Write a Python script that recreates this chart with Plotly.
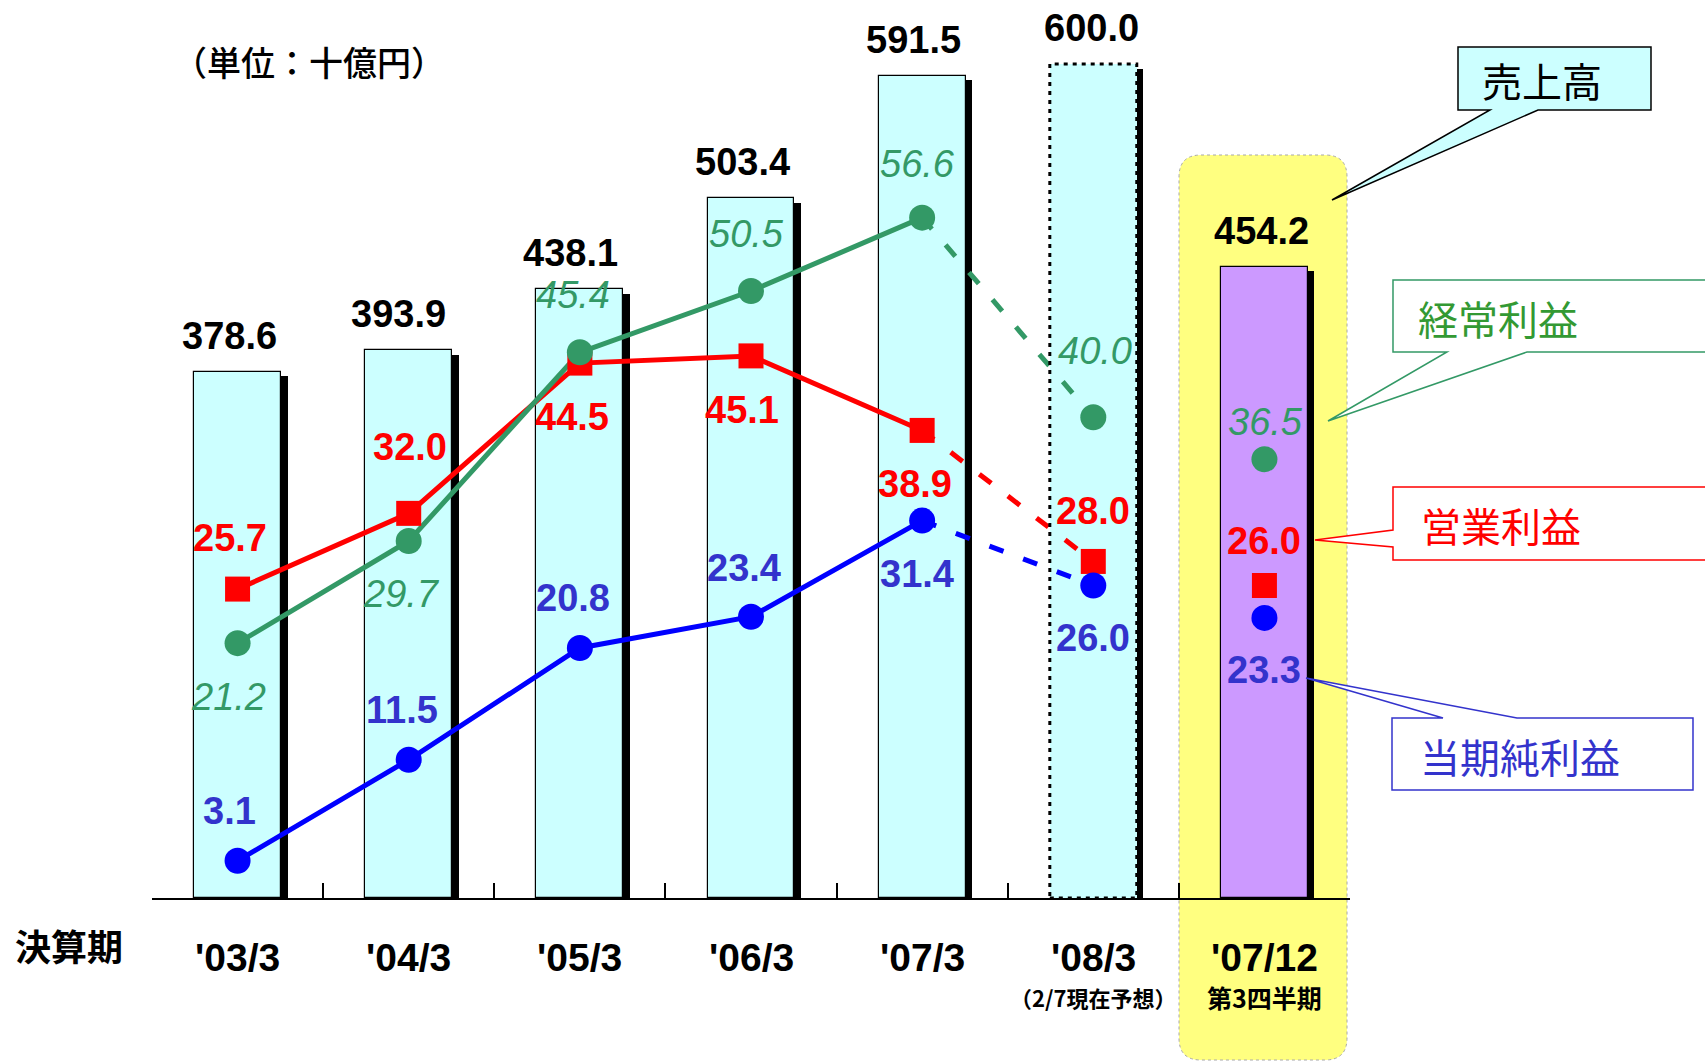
import plotly.graph_objects as go

# ---------------- data ----------------
categories = ["'03/3", "'04/3", "'05/3", "'06/3", "'07/3", "'08/3", "'07/12"]
sub_labels = ["", "", "", "", "", "（2/7現在予想）", "第3四半期"]
sales = [378.6, 393.9, 438.1, 503.4, 591.5, 600.0, 454.2]
ordinary_profit = [21.2, 29.7, 45.4, 50.5, 56.6, 40.0, 36.5]
operating_profit = [25.7, 32.0, 44.5, 45.1, 38.9, 28.0, 26.0]
net_profit = [3.1, 11.5, 20.8, 23.4, 31.4, 26.0, 23.3]

# ---------------- layout geometry ----------------
W, H = 1705, 1063
L, R, T, B = 152, 355, 20, 165
PW = W - L - R
PH = H - T - B
Y1_MAX = PH / 1.390
Y2_MAX = PH / 12.02
CAT_PX = PW / len(categories)

def xp(px):
    return (px - L) / PW

def yp(py):
    return (H - B - py) / PH

xs = list(range(len(categories)))
BW = 0.508
SH_DX = 6.5 / CAT_PX
SH_DY = 4.5 / 1.390

NUM_FONT = "Liberation Sans, Arial, sans-serif"
CJK_FONT = "Noto Sans CJK JP, sans-serif"

CYAN = "#CCFFFF"
PURPLE = "#CC99FF"
YELLOW = "#FFFF80"
GREEN = "#339966"
GREEN_TXT = "#339933"
RED = "#FF0000"
BLUE = "#0000FF"
BLUE_TXT = "#3333CC"

fig = go.Figure()

# bar shadows
fig.add_trace(go.Bar(
    x=xs, y=[v - SH_DY for v in sales], width=BW, offset=-BW / 2 + SH_DX,
    marker=dict(color="black", line=dict(width=0)), hoverinfo="skip",
))
# bars
bar_colors = [CYAN] * 6 + [PURPLE]
bar_lw = [1.2] * 5 + [0] + [1.2]
fig.add_trace(go.Bar(
    x=xs, y=sales, width=BW, offset=-BW / 2,
    marker=dict(color=bar_colors, line=dict(color="black", width=bar_lw)),
))

series = [
    (operating_profit, RED, "square", 25),
    (ordinary_profit, GREEN, "circle", 26),
    (net_profit, BLUE, "circle", 26),
]
for vals, col, sym, sz in series:
    fig.add_trace(go.Scatter(x=xs[:5], y=vals[:5], mode="lines", yaxis="y2",
                             line=dict(color=col, width=5)))
    fig.add_trace(go.Scatter(x=xs[4:6], y=vals[4:6], mode="lines", yaxis="y2",
                             line=dict(color=col, width=5, dash="15px,21px")))
for vals, col, sym, sz in series:
    fig.add_trace(go.Scatter(x=xs, y=vals, mode="markers", yaxis="y2",
                             marker=dict(symbol=sym, size=sz, color=col,
                                         line=dict(width=0))))

annotations = []

# bar value labels
bar_xshift = [-8, -10, -9, -9, -9, -2, -3]
for i, v in enumerate(sales):
    annotations.append(dict(x=xs[i], y=v, xref="x", yref="y", text=f"{v:.1f}",
                            showarrow=False, yshift=36, xshift=bar_xshift[i],
                            xanchor="center", yanchor="middle",
                            font=dict(family=NUM_FONT, size=38, color="black", weight="bold")))

# line value labels
red_shift = [(-8, 51), (1, 66), (-8, -54), (-9, -54), (-7, -54), (0, 50), (0, 44)]
green_shift = [(-9, -54), (-7, -53), (-7, 57), (-5, 57), (-5, 54), (2, 66), (1, 37)]
blue_shift = [(-8, 50), (-7, 50), (-7, 50), (-7, 49), (-5, -53), (0, -53), (0, -52)]
for vals, shifts, col, italic, bold in [
    (operating_profit, red_shift, RED, False, True),
    (ordinary_profit, green_shift, GREEN, True, False),
    (net_profit, blue_shift, BLUE_TXT, False, True),
]:
    for i, v in enumerate(vals):
        annotations.append(dict(
            x=xs[i], y=v, xref="x", yref="y2", text=f"{v:.1f}", showarrow=False,
            xshift=shifts[i][0], yshift=shifts[i][1], xanchor="center", yanchor="middle",
            font=dict(family=NUM_FONT, size=38, color=col,
                      style="italic" if italic else "normal",
                      weight="bold" if bold else "normal")))

# category labels
for i, c in enumerate(categories):
    annotations.append(dict(x=xs[i], y=yp(957), xref="x", yref="paper", text=c,
                            showarrow=False, xanchor="center", yanchor="middle",
                            font=dict(family=NUM_FONT, size=39, color="black", weight="bold")))
    if sub_labels[i]:
        annotations.append(dict(x=xs[i], y=yp(997), xref="x", yref="paper",
                                text=sub_labels[i], showarrow=False,
                                xanchor="center", yanchor="middle",
                                font=dict(family=CJK_FONT, size=22 if i == 5 else 25,
                                          color="black", weight="bold")))

annotations.append(dict(x=xp(69), y=yp(945), xref="paper", yref="paper", text="決算期",
                        showarrow=False, xanchor="center", yanchor="middle",
                        font=dict(family=CJK_FONT, size=36, color="black", weight="bold")))
annotations.append(dict(x=xp(309), y=yp(62), xref="paper", yref="paper", text="（単位：十億円）",
                        showarrow=False, xanchor="center", yanchor="middle",
                        font=dict(family=CJK_FONT, size=34, color="black", weight=500)))

# callout texts
callout_txt = [
    ("売上高", 1542, 80, "black"),
    ("経常利益", 1498, 318, GREEN_TXT),
    ("営業利益", 1501, 525, RED),
    ("当期純利益", 1520, 756, BLUE_TXT),
]
for t, cx, cy, col in callout_txt:
    annotations.append(dict(x=xp(cx), y=yp(cy), xref="paper", yref="paper", text=t,
                            showarrow=False, xanchor="center", yanchor="middle",
                            font=dict(family=CJK_FONT, size=40, color=col)))

def path_of(points):
    s = "M " + " L ".join(f"{xp(a):.5f},{yp(b):.5f}" for a, b in points) + " Z"
    return s

shapes = []
# yellow highlight box (rounded)
x0, x1, y0, y1, r = 1179, 1347, 155, 1060, 22
yb = (f"M {xp(x0 + r)},{yp(y0)} L {xp(x1 - r)},{yp(y0)} Q {xp(x1)},{yp(y0)} {xp(x1)},{yp(y0 + r)} "
      f"L {xp(x1)},{yp(y1 - r)} Q {xp(x1)},{yp(y1)} {xp(x1 - r)},{yp(y1)} "
      f"L {xp(x0 + r)},{yp(y1)} Q {xp(x0)},{yp(y1)} {xp(x0)},{yp(y1 - r)} "
      f"L {xp(x0)},{yp(y0 + r)} Q {xp(x0)},{yp(y0)} {xp(x0 + r)},{yp(y0)} Z")
shapes.append(dict(type="path", path=yb, xref="paper", yref="paper", layer="below",
                   fillcolor=YELLOW, line=dict(color="#A8A8A8", width=1, dash="dot")))

# dotted border of forecast bar
shapes.append(dict(type="rect", xref="x", yref="y", x0=xs[5] - BW / 2, x1=xs[5] + BW / 2,
                   y0=0, y1=sales[5], layer="above",
                   line=dict(color="black", width=3, dash="4px,5px")))

# callouts
shapes.append(dict(type="path", xref="paper", yref="paper", layer="above",
                   path=path_of([(1458, 47), (1651, 47), (1651, 110), (1538, 110), (1332, 200),
                                 (1490, 110), (1458, 110)]),
                   fillcolor=CYAN, line=dict(color="black", width=1.5)))
shapes.append(dict(type="path", xref="paper", yref="paper", layer="above",
                   path=path_of([(1393, 280), (1720, 280), (1720, 352), (1527, 352), (1328, 421),
                                 (1447, 352), (1393, 352)]),
                   fillcolor="white", line=dict(color=GREEN, width=1.5)))
shapes.append(dict(type="path", xref="paper", yref="paper", layer="above",
                   path=path_of([(1393, 487), (1720, 487), (1720, 560), (1393, 560), (1393, 547),
                                 (1315, 540), (1393, 530)]),
                   fillcolor="white", line=dict(color=RED, width=1.5)))
shapes.append(dict(type="path", xref="paper", yref="paper", layer="above",
                   path=path_of([(1392, 718), (1443, 718), (1306, 678), (1517, 718), (1693, 718),
                                 (1693, 790), (1392, 790)]),
                   fillcolor="white", line=dict(color=BLUE_TXT, width=1.5)))

tick_pos = [i - 0.5 for i in range(len(categories) + 1)]

fig.update_layout(
    width=W, height=H, margin=dict(l=L, r=R, t=T, b=B, pad=0),
    paper_bgcolor="white", plot_bgcolor="rgba(0,0,0,0)",
    barmode="overlay", bargap=0, showlegend=False,
    xaxis=dict(range=[-0.5, len(categories) - 0.5], tickvals=tick_pos, ticks="inside",
               ticklen=15, tickwidth=1.5, tickcolor="black", showticklabels=False,
               showline=True, linecolor="black", linewidth=2, showgrid=False, zeroline=False,
               fixedrange=True),
    yaxis=dict(range=[0, Y1_MAX], visible=False, showgrid=False, zeroline=False),
    yaxis2=dict(range=[0, Y2_MAX], overlaying="y", visible=False, showgrid=False,
                zeroline=False),
    annotations=annotations, shapes=shapes,
)

fig.write_html("out.html", config={"displayModeBar": False},
               post_script="document.body.style.margin='0';document.body.style.overflow='hidden';")
